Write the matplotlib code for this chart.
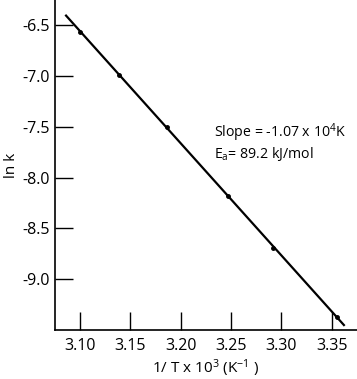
import numpy as np
import matplotlib
matplotlib.use('Agg')
import matplotlib.pyplot as plt

plt.rcParams['font.family'] = ['Open Sans', 'DejaVu Sans']
plt.rcParams['mathtext.default'] = 'regular'

# data
inv_T = [3.100, 3.139, 3.186, 3.247, 3.292, 3.355]   # 1/T x 10^3 (K^-1)
ln_k = [-6.57, -6.99, -7.50, -8.18, -8.69, -9.37]
fit_range = [3.086, 3.362]

x_ticks = [3.10, 3.15, 3.20, 3.25, 3.30, 3.35]
y_ticks = [-6.5, -7.0, -7.5, -8.0, -8.5, -9.0]

slope, icpt = np.polyfit(inv_T, ln_k, 1)
xf = np.array(fit_range)

fig = plt.figure(figsize=(3.57, 3.79), dpi=100)
ax = fig.add_axes([0.154, 0.129, 0.846, 0.871])

ax.plot(xf, slope * xf + icpt, color='black', lw=1.6)
ax.plot(inv_T, ln_k, 'o', color='black', ms=2.5)

ax.set_xlim(3.075, 3.375)
ax.set_ylim(-9.5, -6.255)
ax.set_xticks(x_ticks)
ax.set_xticklabels(['%.2f' % v for v in x_ticks])
ax.set_yticks(y_ticks)
ax.set_yticklabels(['%.1f' % v for v in y_ticks])
ax.tick_params(direction='in', length=13, width=1, labelsize=11.5, pad=4)
ax.tick_params(axis='x', pad=6)

for s in ['top', 'right']:
    ax.spines[s].set_visible(False)
for s in ['left', 'bottom']:
    ax.spines[s].set_linewidth(1.2)

ax.set_ylabel('ln k', fontsize=11, labelpad=2)
ax.set_xlabel(r'1/ T x 10$^3$ (K$^{-1}$ )', fontsize=11, labelpad=2)

ax.text(0.525, 0.585, r'Slope = -1.07 x 10$^4$K', transform=ax.transAxes, fontsize=10.2)
ax.text(0.525, 0.52, r'E$_a$= 89.2 kJ/mol', transform=ax.transAxes, fontsize=10.2)

fig.savefig('out.png', dpi=100)
